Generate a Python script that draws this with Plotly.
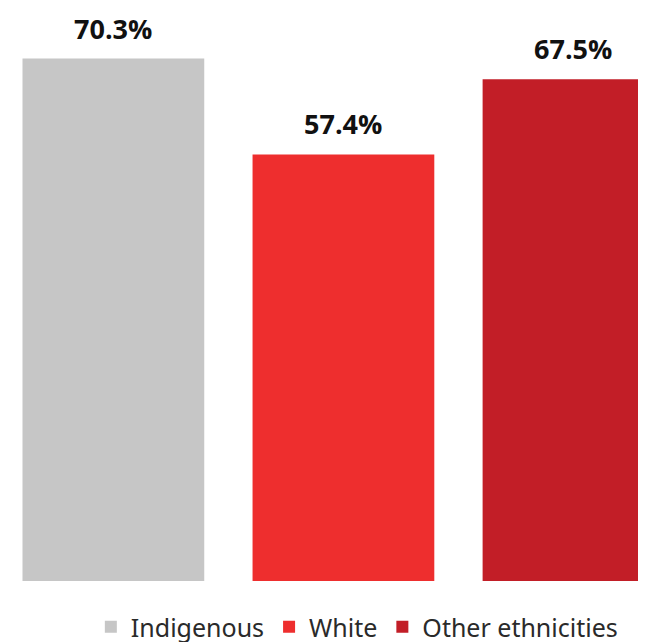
import plotly.graph_objects as go

categories = ["Indigenous", "White", "Other ethnicities"]
values = [70.3, 57.4, 67.5]
colors = ["#c6c6c6", "#ee2e2e", "#c21e27"]

fig = go.Figure()
for cat, val, col in zip(categories, values, colors):
    fig.add_trace(go.Bar(
        x=[cat], y=[val], name=cat, marker=dict(color=col, line=dict(width=0)),
        width=0.79, showlegend=True, hoverinfo="skip",
    ))
    fig.add_annotation(
        x=cat, y=val, text=f"<b>{val:.1f}%</b>", showarrow=False,
        yanchor="bottom", yshift=10,
        font=dict(family="Open Sans, Roboto, Arial", size=27, color="#111111", weight=800),
    )

fig.update_layout(
    width=646, height=642,
    margin=dict(l=0, r=0, t=0, b=69, autoexpand=False),
    paper_bgcolor="white", plot_bgcolor="white",
    barmode="overlay",
    xaxis=dict(range=[-0.458, 2.35], visible=False, type="category",
               categoryorder="array", categoryarray=categories),
    yaxis=dict(range=[0, 77.1], visible=False),
    legend=dict(orientation="h", x=0.54, xanchor="center",
                yref="container", y=0.0, yanchor="bottom",
                font=dict(family="Noto Sans, Open Sans, Arial", size=25, color="#2a2a2a"),
                itemclick=False, traceorder="normal"),
)
fig.write_html("out.html")
